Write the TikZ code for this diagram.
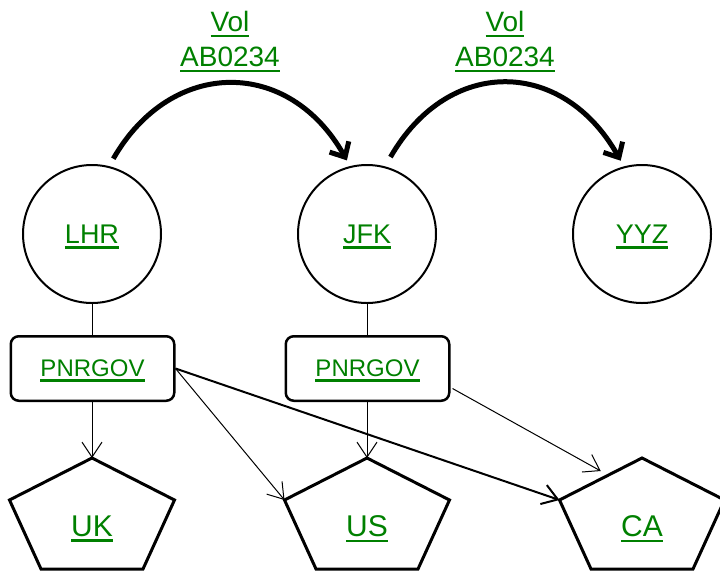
\documentclass[tikz,border=0pt]{standalone}
\usepackage{fontspec}
\setmainfont{Liberation Sans}
\usetikzlibrary{arrows.meta,calc}
\definecolor{lnk}{RGB}{0,128,0}
\newcommand\ulk[1]{\setbox0=\hbox{#1}\rlap{\smash{\rule[-0.2em]{\wd0}{0.09em}}}\box0}
\newcommand\fs[1]{\fontsize{#1}{#1}\selectfont}
\begin{document}
\begin{tikzpicture}[x=1pt,y=-1pt,
  lbl/.style={text=lnk, inner sep=0pt},
  airport/.style={circle, draw, line width=2pt, minimum size=138pt, inner sep=0pt, text=lnk, font=\fs{27}},
  msgbox/.style={draw, rounded corners=8pt, line width=2.5pt, minimum width=163.5pt, minimum height=64.5pt, inner sep=0pt, text=lnk, font=\fs{24}},
  country/.style={draw, line width=3pt, line join=miter},
  feed/.style={line width=1pt, -{Straight Barb[length=15pt,width=20pt]}},
  link/.style={line width=1pt},
  flight/.style={line width=5pt, -{Straight Barb[length=12pt,width=22pt]}},
  flabel/.style={text=lnk, align=center, font=\fontsize{28}{35}\selectfont, inner sep=0pt}
]
\useasboundingbox (0,0) rectangle (720,574);

% airports
\node[airport] (lhr) at (92,234) {\ulk{LHR}};
\node[airport] (jfk) at (367,234) {\ulk{JFK}};
\node[airport] (yyz) at (642,234) {\ulk{YYZ}};

% message boxes
\node[msgbox] (p1) at (92.5,368.5) {\ulk{PNRGOV}};
\node[msgbox] (p2) at (367.5,368.5) {\ulk{PNRGOV}};

% countries
\foreach \n/\cx/\t in {uk/92/UK, us/367/US, ca/642/CA}{
  \coordinate (\n-t) at (\cx,458);
  \coordinate (\n-r) at (\cx+82.5,500);
  \coordinate (\n-br) at (\cx+51,569);
  \coordinate (\n-bl) at (\cx-51,569);
  \coordinate (\n-l) at (\cx-82.5,500);
  \draw[country] (\n-t) -- (\n-r) -- (\n-br) -- (\n-bl) -- (\n-l) -- cycle;
  \node[lbl, font=\fs{30}] (\n) at (\cx,526) {\ulk{\t}};
}
\coordinate (ca-a) at ($(ca-l)!0.5!(ca-t)+(0,-8)$);

% flight labels
\node[flabel] (f1) at (230,39) {\ulk{Vol}\\\ulk{AB0234}};
\node[flabel] (f2) at (505,39) {\ulk{Vol}\\\ulk{AB0234}};

% flights
\draw[flight] ([shift={(2,-8)}]lhr.74) .. controls +(58,-101) and +(-58,-103) .. ([shift={(-2,-6)}]jfk.105.5);
\draw[flight] ([shift={(3,-10)}]jfk.73) .. controls +(58,-101) and +(-58,-103) .. ([shift={(-2,-6)}]yyz.106);

% links
\draw[link] (lhr.south) -- (lhr.south |- p1.north);
\draw[link] (jfk.south) -- (jfk.south |- p2.north);
\draw[feed] (uk-t |- p1.south) -- (uk-t);
\draw[feed] (p1.east) -- (us-l);
\draw[feed, line width=2pt] (p1.east) -- (ca-l);
\draw[feed] (us-t |- p2.south) -- (us-t);
\draw[feed] ($(p2.east)+(2,20)$) -- (ca-a);
\end{tikzpicture}
\end{document}
